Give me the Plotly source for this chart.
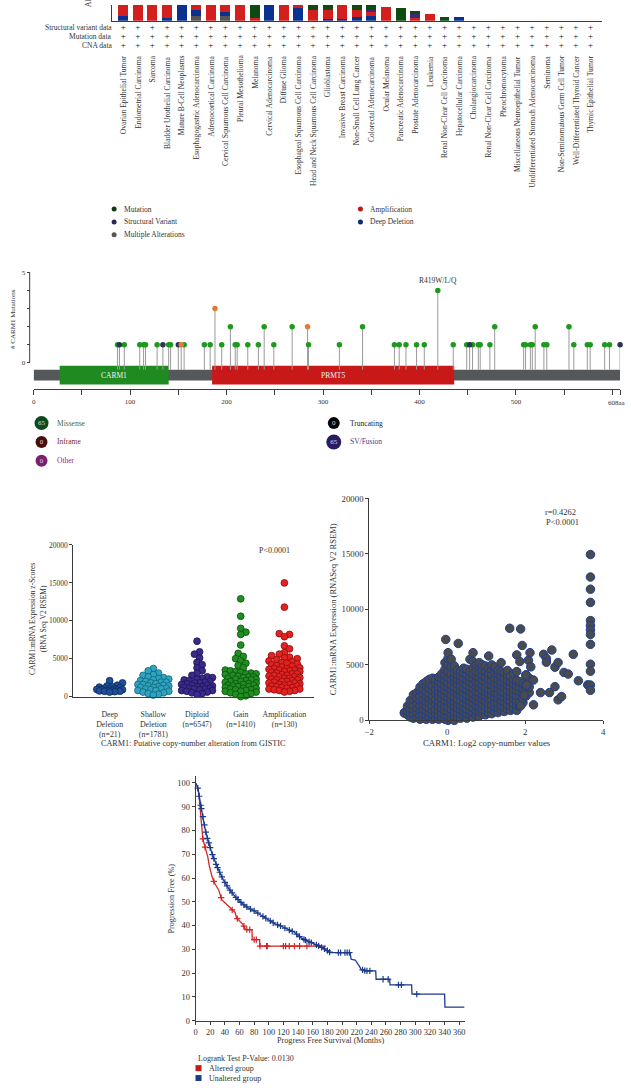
import math
import numpy as np
import plotly.graph_objects as go

W, H = 631, 1088
SERIF = "Liberation Serif"

# ---------------- Panel A: alteration frequency by cancer type ----------------
cancer_types = [
    "Ovarian Epithelial Tumor", "Endometrial Carcinoma", "Sarcoma", "Bladder Urothelial Carcinoma",
    "Mature B-Cell Neoplasms", "Esophagogastric Adenocarcinoma", "Adrenocortical Carcinoma",
    "Cervical Squamous Cell Carcinoma", "Pleural Mesothelioma", "Melanoma", "Cervical Adenocarcinoma",
    "Diffuse Glioma", "Esophageal Squamous Cell Carcinoma", "Head and Neck Squamous Cell Carcinoma",
    "Glioblastoma", "Invasive Breast Carcinoma", "Non-Small Cell Lung Cancer", "Colorectal Adenocarcinoma",
    "Ocular Melanoma", "Pancreatic Adenocarcinoma", "Prostate Adenocarcinoma", "Leukemia",
    "Renal Non-Clear Cell Carcinoma", "Hepatocellular Carcinoma", "Cholangiocarcinoma",
    "Renal Non-Clear Cell Carcinoma", "Pheochromocytoma", "Miscellaneous Neuroepithelial Tumor",
    "Undifferentiated Stomach Adenocarcinoma", "Seminoma", "Non-Seminomatous Germ Cell Tumor",
    "Well-Differentiated Thyroid Cancer", "Thymic Epithelial Tumor",
]
freq_multiple = [0, 0, 0, 0, 0, 0.58, 0, 0.58, 0, 0, 0, 0, 0, 0, 0, 0, 0, 0, 0, 0, 0, 0, 0, 0,
                 0, 0, 0, 0, 0, 0, 0, 0, 0]
freq_deep_del = [0.62, 0, 0, 0.33, 4.2, 0.79, 0, 0.5, 0, 0, 3.6, 0, 1.58, 0, 0.2, 0.29, 0.54, 0.62,
                 0, 0, 0, 0, 0, 0.46, 0, 0, 0, 0, 0, 0, 0, 0, 0]
freq_amp = [6.5, 6.0, 5.6, 5.2, 0, 3.8, 4.6, 4.4, 4.0, 0.33, 0, 3.2, 1.9, 1.38, 1.2, 2.4, 0.88, 0.5,
            1.79, 0, 0.33, 0.83, 0, 0, 0, 0, 0, 0, 0, 0, 0, 0, 0]
freq_sv = [0, 0, 0, 0, 0, 0, 0, 0, 0, 0, 0, 0, 0, 0, 0.15, 0, 0, 0.22, 0, 0, 0.54, 0, 0, 0,
           0, 0, 0, 0, 0, 0, 0, 0, 0]
freq_mut = [0, 0, 0, 0, 0, 0, 0, 0, 0, 2.5, 0, 0, 0, 1.0, 0.8, 0, 0.8, 0.9, 0, 1.58, 0.37, 0, 0.46, 0,
            0, 0, 0, 0, 0, 0, 0, 0, 0]
data_rows = ["Structural variant data", "Mutation data", "CNA data"]
legend_a = ["Mutation", "Structural Variant", "Multiple Alterations", "Amplification", "Deep Deletion"]

# ---------------- Panel B: lollipop ----------------
mut_pos = [87, 89, 94, 110, 114, 116, 128, 134, 140, 142, 150, 153, 156, 177, 183, 188, 195, 204, 209,
           211, 222, 233, 239, 249, 268, 284, 285, 317, 341, 374, 379, 386, 397, 405, 419, 435, 449,
           452, 455, 461, 463, 473, 478, 508, 510, 515, 517, 520, 529, 532, 555, 560, 574, 577, 592,
           597, 608]
mut_count = [1, 1, 1, 1, 1, 1, 1, 1, 1, 1, 1, 1, 1, 1, 1, 3, 1, 2, 1,
             1, 1, 1, 2, 1, 2, 2, 1, 1, 2, 1, 1, 1, 1, 1, 4, 1, 1,
             1, 1, 1, 1, 1, 2, 1, 1, 1, 1, 2, 1, 1, 2, 1, 1, 1, 1,
             1, 1]
mut_class = ["M", "T", "M", "M", "M", "M", "M", "T", "M", "M", "T", "O", "M", "M", "M", "O", "M", "M", "M",
             "M", "M", "M", "M", "M", "M", "O", "M", "M", "M", "M", "M", "M", "M", "M", "M", "M", "M",
             "T", "M", "M", "M", "M", "M", "M", "M", "M", "M", "M", "M", "M", "M", "M", "M", "M", "M",
             "M", "T"]
protein_length = 608
domain_names = ["CARM1", "PRMT5"]
domain_start = [27, 185]
domain_end = [140, 436]
hotspot_label = "R419W/L/Q"
hotspot_pos = 419
legend_b_labels = ["Missense", "Inframe", "Other", "Truncating", "SV/Fusion"]
legend_b_counts = ["65", "0", "0", "0", "65"]

# ---------------- Panel C: expression by copy-number group ----------------
cna_groups = ["Deep<br>Deletion<br>(n=21)", "Shallow<br>Deletion<br>(n=1781)", "Diploid<br>(n=6547)",
              "Gain<br>(n=1410)", "Amplification<br>(n=130)"]
expr_deep = [2100, 1800, 1500, 1400, 1300, 1250, 1200, 1100, 1000, 1000, 950, 900, 900, 850, 800, 800,
             750, 700, 700, 650, 600]
expr_shallow = [3700, 3400, 3100, 2900, 2800, 2600, 2500, 2400, 2300, 2200, 2100, 2000, 1900, 1900, 1800,
                1700, 1600, 1600, 1500, 1400, 1400, 1300, 1200, 1200, 1100, 1000, 1000, 900, 800, 800,
                700, 600, 500, 400, 300, 200]
expr_diploid = [7300, 5900, 5600, 5100, 4500, 4200, 3800, 3400, 3100, 2800, 2600, 2500, 2400, 2300, 2200,
                2100, 2000, 1900, 1800, 1800, 1700, 1600, 1500, 1500, 1400, 1300, 1300, 1200, 1100, 1100,
                1000, 1000, 900, 800, 800, 700, 600, 500, 400, 300]
expr_gain = [12900, 10600, 9000, 8500, 8200, 6800, 5700, 5300, 5000, 4700, 4400, 4100, 3800, 3500, 3400,
             3300, 3200, 3100, 3000, 3000, 2900, 2800, 2700, 2600, 2600, 2500, 2400, 2300, 2300, 2200,
             2100, 2000, 2000, 1900, 1800, 1700, 1700, 1600, 1500, 1500, 1400, 1300, 1300, 1200, 1100,
             1100, 1000, 900, 900, 800, 700, 700, 600, 500, 400, 300, 100, 0]
expr_amp = [15000, 11800, 8300, 8200, 7900, 6700, 6300, 5800, 5600, 5400, 5200, 5100, 5000, 4900, 4700,
            4600, 4500, 4400, 4300, 4200, 4100, 4000, 3900, 3800, 3700, 3700, 3600, 3500, 3500, 3400,
            3300, 3300, 3200, 3100, 3000, 3000, 2900, 2800, 2800, 2700, 2600, 2600, 2500, 2400, 2400,
            2300, 2200, 2200, 2100, 2000, 2000, 1900, 1800, 1800, 1700, 1600, 1600, 1500, 1400, 1400,
            1300, 1200, 1200, 1100, 1000, 1000, 900, 800, 800, 700, 600]

# ---------------- Panel D: log2 copy number vs expression ----------------
cnv_col_x = [-1.10, -1.02, -0.95, -0.87, -0.78, -0.70, -0.62, -0.54, -0.46, -0.38, -0.30, -0.22, -0.14,
             -0.06, 0.02, 0.10, 0.18, 0.26, 0.34, 0.42, 0.50, 0.58, 0.66, 0.74, 0.82, 0.90, 0.98, 1.06,
             1.14, 1.22, 1.30, 1.38, 1.46, 1.54, 1.62, 1.70, 1.78, 1.86, 1.94, 2.02, 2.10]
cnv_col_y = [
    [700, 650],
    [500, 900, 1300],
    [300, 700, 1100, 1500, 1800],
    [200, 600, 1000, 1400, 1900, 2300],
    [300, 700, 1100, 1600, 2000, 2500],
    [100, 500, 900, 1300, 1800, 2200, 2700, 3000],
    [200, 600, 1000, 1500, 1900, 2400, 2800, 3300],
    [100, 500, 900, 1300, 1700, 2200, 2600, 3100, 3500],
    [300, 700, 1100, 1600, 2000, 2400, 2900, 3300, 3700],
    [100, 500, 900, 1300, 1800, 2200, 2700, 3100, 3800],
    [200, 600, 1000, 1500, 1900, 2400, 2800, 3300, 3700],
    [100, 500, 900, 1300, 1700, 2200, 2600, 3000, 3500, 3900],
    [300, 700, 1100, 1500, 2000, 2400, 2900, 3300, 3800, 4200],
    [100, 500, 900, 1300, 1800, 2200, 2700, 3100, 3600, 4100, 4600, 5200],
    [0, 400, 800, 1200, 1700, 2100, 2500, 3000, 3400, 3900, 4400, 5000, 5600, 6100],
    [200, 600, 1000, 1500, 1900, 2300, 2800, 3200, 3700, 4200, 4800, 5500],
    [0, 400, 800, 1300, 1700, 2100, 2600, 3000, 3500, 3900, 4300, 4900],
    [300, 700, 1100, 1500, 1900, 2400, 2800, 3300, 3700, 4100, 4500],
    [200, 600, 1000, 1400, 1800, 2300, 2700, 3100, 3600, 4000, 4400],
    [400, 800, 1200, 1600, 2100, 2500, 2900, 3400, 3800, 4300, 4700],
    [200, 600, 1000, 1500, 1900, 2300, 2800, 3200, 3700, 4100, 4600],
    [500, 900, 1300, 1700, 2200, 2600, 3000, 3500, 3900, 4400, 5500],
    [300, 700, 1100, 1600, 2000, 2400, 2900, 3300, 3800, 4200, 4700, 5300, 6100],
    [500, 900, 1300, 1800, 2200, 2600, 3100, 3500, 4000, 4400, 5000],
    [400, 800, 1200, 1700, 2100, 2500, 3000, 3400, 3900, 4300, 4900, 5200],
    [600, 1000, 1400, 1900, 2300, 2700, 3200, 3600, 4100, 4500, 5000],
    [500, 900, 1300, 1700, 2200, 2600, 3000, 3500, 3900, 4400, 4900],
    [700, 1100, 1500, 2000, 2400, 2800, 3300, 3700, 4200, 4700, 5800],
    [600, 1000, 1400, 1900, 2300, 2700, 3200, 3600, 4100, 4600, 5000],
    [800, 1200, 1600, 2100, 2500, 2900, 3400, 3800, 4300, 4800],
    [700, 1100, 1600, 2000, 2400, 2900, 3300, 3700, 4200, 4500],
    [900, 1300, 1800, 2200, 2600, 3100, 3500, 3900, 4400, 5200],
    [800, 1200, 1700, 2100, 2500, 3000, 3400, 3800, 4300],
    [1000, 1400, 1900, 2300, 2700, 3200, 3600, 4100, 4500],
    [900, 1300, 1800, 2200, 2600, 3100, 3500, 4000],
    [1100, 1500, 2000, 2400, 2800, 3300, 3700, 4200],
    [900, 1400, 1800, 2200, 2700, 3100, 3600, 4400, 5900],
    [1300, 1700, 2200, 2600, 3000, 3500, 5300],
    [1600, 2000, 2400, 2900, 3300],
    [2200, 2800, 3200, 4100],
    [2500, 3000, 3800],
]
cnv_extra_x = [-0.04, 0.28, 1.60, 1.88, 1.92, 1.88, 2.08, 2.12, 2.14, 2.01, 2.03, 1.97, 2.21, 2.21, 2.39,
               2.47, 2.54, 2.54, 2.62, 2.68, 2.76, 2.76, 2.84, 2.84, 2.93, 2.99, 3.10, 3.23, 3.36, 3.60,
               3.67, 3.67, 3.67, 3.67, 3.67, 3.67, 3.67, 3.67, 3.67, 3.67, 3.67, 3.67, 3.67]
cnv_extra_y = [7290, 6930, 8300, 8240, 6750, 1310, 5420, 6100, 4820, 4080, 3180, 2290, 1400, 3630, 2500,
               5950, 5570, 5240, 2500, 6340, 4790, 3040, 5210, 1850, 2140, 4320, 4170, 5950, 3570, 3200,
               14940, 12920, 11820, 10630, 8990, 8540, 8150, 7740, 6850, 5060, 4430, 3180, 2710]

# ---------------- Panel E: Kaplan-Meier ----------------
unalt_t = [0, 2.7, 4.5, 6.75, 9, 11.2, 13.5, 15.7, 19, 22.5, 27, 31.5, 38, 45, 54, 63, 72, 81, 90, 99,
           108, 117, 126, 135, 144, 153, 162, 171, 178, 184, 211, 211.5, 212.4, 218, 220, 224, 226, 232,
           246, 246.5, 265, 265.5, 295, 295.5, 340, 340.5, 367]
unalt_s = [100, 98.3, 95.4, 91, 87.7, 83.6, 80, 77, 73.8, 70.3, 66.4, 63.4, 59.2, 55.7, 52.2, 49.4, 47.4,
           46, 44.2, 42.5, 40.8, 39.7, 38.3, 37.2, 34.8, 33.4, 32.3, 31, 29.9, 28.6, 28.6, 27.9, 25.8,
           25.5, 24.7, 22.7, 21.6, 20.9, 20.9, 17.4, 17.4, 15.0, 15.0, 11.1, 11.1, 5.7, 5.7]
unalt_censor = [3, 5, 7, 8, 10, 12, 14, 16, 18, 20, 23, 25, 28, 30, 33, 36, 40, 43, 47, 50, 55, 58, 62, 66,
                70, 75, 80, 85, 92, 96, 102, 106, 112, 116, 122, 128, 132, 138, 142, 148, 150, 155, 158,
                165, 168, 172, 176, 180, 183, 195, 198, 204, 207, 210, 228, 231, 234, 238, 256, 263, 277,
                281, 302]
alt_t = [0, 3.6, 4.5, 5.9, 7.7, 9.9, 13.5, 16.7, 19, 22.5, 26, 31.5, 36, 40.5, 47, 54, 56, 60.7, 65, 68.4,
         77, 77.4, 87.5, 87.8, 178]
alt_s = [100, 97.6, 95.4, 89.8, 82.9, 76.6, 72.4, 68.9, 64.8, 60.6, 57.8, 55, 50.8, 49.4, 47.4, 45.5, 43.2,
         41.8, 40.4, 38.3, 38.3, 34.1, 34.1, 31.3, 31.3]
alt_censor = [10, 13, 25, 35, 50, 57, 66, 70, 74, 80, 83, 88, 97, 98, 120, 123, 128, 135, 142, 152]

# ============================================================================
def xd(a, b):
    return [a / W, b / W]


def yd(top, bottom):
    return [1 - bottom / H, 1 - top / H]


def px(x):
    return x / W


def py(y):
    return 1 - y / H


TXT = "#333333"
LINE = "#3c3c3c"
fig = go.Figure()
annotations = []
shapes = []


def ann(text, x, y, size=8, color=TXT, xanchor="center", yanchor="middle", angle=0, xref="paper",
        yref="paper", **kw):
    annotations.append(dict(text=text, x=x, y=y, xref=xref, yref=yref, showarrow=False,
                            xanchor=xanchor, yanchor=yanchor, textangle=angle,
                            font=dict(family=SERIF, size=size, color=color), **kw))


# ---------------- Panel A ----------------
n_types = len(cancer_types)
xi = list(range(n_types))
for arr, col in [(freq_multiple, "#555555"), (freq_deep_del, "#0b3190"), (freq_amp, "#d41f1f"),
                 (freq_sv, "#3b2a7c"), (freq_mut, "#0e4a12")]:
    fig.add_trace(go.Bar(x=xi, y=arr, marker=dict(color=col, line=dict(width=0)), width=0.68,
                         xaxis="x", yaxis="y", hoverinfo="skip"))

row_px = [22.7, 31.7, 40.7]
plus_x, plus_y = [], []
for r, rp in enumerate(data_rows):
    for i in xi:
        plus_x.append(i)
        plus_y.append(row_px[r])
    ann(rp, px(110.5), py(row_px[r]), size=7.5, xanchor="right")
fig.add_trace(go.Scatter(x=plus_x, y=plus_y, mode="text", text=["+"] * len(plus_x),
                         textfont=dict(family=SERIF, size=9, color="#111"), xaxis="x", yaxis="y2",
                         cliponaxis=False, hoverinfo="skip"))
for i, name in enumerate(cancer_types):
    ann(name, i, py(49), size=7.6, xref="x", yanchor="top", angle=-90)
ann("Alteration Frequency", px(85), py(4), size=7.5, angle=-90, yanchor="bottom")

# legend A (overlay pixel axis x7/y7)
leg_a_col = ["#103c14", "#2a2a55", "#555555", "#c01616", "#0c2c6c"]
leg_a_x = [110.5, 110.5, 110.5, 360, 360]
leg_a_y = [206, 219, 232, 206, 219]
fig.add_trace(go.Scatter(x=leg_a_x, y=leg_a_y, mode="markers",
                         marker=dict(size=5, color=leg_a_col), xaxis="x7", yaxis="y7",
                         hoverinfo="skip", cliponaxis=False))
for lab, xx, yy in zip(legend_a, leg_a_x, leg_a_y):
    ann(lab, px(xx + 8), py(yy), size=7.5, xanchor="left")

# ---------------- Panel B ----------------
stem_base = -0.385
sx, sy = [], []
for p, c in zip(mut_pos, mut_count):
    sx += [p, p, None]
    sy += [stem_base, c, None]
fig.add_trace(go.Scatter(x=sx, y=sy, mode="lines", line=dict(color="#9a9a9a", width=1),
                         xaxis="x3", yaxis="y3", hoverinfo="skip", cliponaxis=False))
cls_color = {"M": "#1d9a1d", "T": "#2c3350", "O": "#e07a3a"}
for k, col in cls_color.items():
    xs = [p for p, c in zip(mut_pos, mut_class) if c == k]
    ys = [n for n, c in zip(mut_count, mut_class) if c == k]
    fig.add_trace(go.Scatter(x=xs, y=ys, mode="markers",
                             marker=dict(size=5.5, color=col, line=dict(width=0)),
                             xaxis="x3", yaxis="y3", hoverinfo="skip", cliponaxis=False))
shapes.append(dict(type="rect", xref="x3", yref="y3", x0=0, x1=protein_length, y0=-0.99, y1=-0.385,
                   fillcolor="#55585b", line=dict(width=0), layer="below"))
for nm, s, e, col in zip(domain_names, domain_start, domain_end, ["#1f8a1f", "#c81818"]):
    shapes.append(dict(type="rect", xref="x3", yref="y3", x0=s, x1=e, y0=-1.21, y1=-0.165,
                       fillcolor=col, line=dict(width=0), layer="below"))
    ann(nm, (s + e) / 2, -0.69, size=7.5, color="#f2f2f2", xref="x3", yref="y3")
shapes.append(dict(type="line", xref="paper", yref="y3", x0=px(25), x1=px(25), y0=0, y1=5,
                   line=dict(color=LINE, width=1)))
hi = mut_pos.index(hotspot_pos)
ann(hotspot_label, hotspot_pos, mut_count[hi], size=7.5, xref="x3", yref="y3", yshift=10)
ann("# CARM1 Mutations", px(8), py(317), size=7, angle=-90)
ann(str(protein_length) + "aa", px(630.5), py(401.5), size=7, xanchor="right")

leg_b_x = [37, 37, 37, 333, 333]
leg_b_y = [422, 441, 460, 422, 441]
leg_b_col = ["#0f4a1c", "#4a0c0c", "#7a1f72", "#050505", "#2c1b63"]
leg_b_txt = ["#3f6a48", "#7a2a2a", "#8a2a8a", "#222222", "#4a3a8c"]
leg_b_size = [14, 12, 12, 12, 15]
fig.add_trace(go.Scatter(x=leg_b_x, y=leg_b_y, mode="markers",
                         marker=dict(size=leg_b_size, color=leg_b_col, opacity=1, line=dict(width=0)),
                         xaxis="x7", yaxis="y7", hoverinfo="skip", cliponaxis=False))
fig.add_trace(go.Scatter(x=leg_b_x, y=leg_b_y, mode="text", text=legend_b_counts,
                         textposition="middle center",
                         textfont=dict(family=SERIF, size=7, color="#d8d8d8"),
                         xaxis="x7", yaxis="y7", hoverinfo="skip", cliponaxis=False))
for lab, xx, yy, c in zip(legend_b_labels, leg_b_x, leg_b_y, leg_b_txt):
    ann(lab, px(xx + 14), py(yy), size=7.5, color=c, xanchor="left")

# ---------------- Panel C ----------------
C_PPX = 244 / 5.514
C_PPY = 153 / 20000.0


def swarm_offsets(values, ppx, ppy, diam, max_half):
    order = sorted(range(len(values)), key=lambda i: values[i])
    step = diam * 0.5
    cands = [0.0]
    k = 1
    while k * step <= max_half:
        cands += [k * step, -k * step]
        k += 1
    placed = []
    offs = [0.0] * len(values)
    for i in order:
        yp = values[i] * ppy
        chosen, best, bestc = None, -1.0, 0.0
        for c in cands:
            near = [math.hypot(c - a, yp - b) for a, b in placed if abs(yp - b) < diam]
            md = min(near) if near else 1e9
            if md >= diam:
                chosen = c
                break
            if md > best:
                best, bestc = md, c
        if chosen is None:
            chosen = bestc
        placed.append((chosen, yp))
        offs[i] = chosen / ppx
    return offs


groups = [expr_deep, expr_shallow, expr_diploid, expr_gain, expr_amp]
g_fill = ["#1f4f96", "#2fa3c0", "#3a2b88", "#1f8f22", "#e32222"]
g_edge = ["#0b2a5e", "#126578", "#1b1258", "#0c4d0e", "#8c0c0c"]
g_half = [14, 17, 17, 16, 18]
for gi, vals in enumerate(groups):
    offs = swarm_offsets(vals, C_PPX, C_PPY, 5.2, g_half[gi])
    fig.add_trace(go.Scatter(x=[gi + o for o in offs], y=vals, mode="markers",
                             marker=dict(size=6.8, color=g_fill[gi], line=dict(color=g_edge[gi], width=0.8)),
                             xaxis="x4", yaxis="y4", hoverinfo="skip", cliponaxis=False))
ann("P<0.0001", px(273), py(551), size=8)
ann("CARM1:mRNA Expression z-Scores", px(28), py(620), size=7.5, angle=-90)
ann("(RNA Seq V2 RSEM)", px(38.5), py(620), size=7.5, angle=-90)
ann("CARM1: Putative copy-number alteration from GISTIC", px(191), py(745), size=8.2)

# ---------------- Panel D ----------------
dx, dy = [], []
for cx, ys in zip(cnv_col_x, cnv_col_y):
    for v in ys:
        dx.append(cx)
        dy.append(v)
dx += cnv_extra_x
dy += cnv_extra_y
fig.add_trace(go.Scatter(x=dx, y=dy, mode="markers",
                         marker=dict(size=8.5, color="#4b4b4d", line=dict(color="#1d3f8f", width=1)),
                         xaxis="x5", yaxis="y5", hoverinfo="skip", cliponaxis=False))
ann("r=0.4262", px(563), py(512), size=8.5)
ann("P<0.0001", px(565), py(522), size=8.5)
ann("CARM1:mRNA Expression (RNASeq V2 RSEM)", px(333), py(610), size=8.5, angle=-90)
ann("CARM1: Log2 copy-number values", px(488), py(745), size=8.8)

# ---------------- Panel E ----------------
for t, s, cens, col in [(alt_t, alt_s, alt_censor, "#d42424"), (unalt_t, unalt_s, unalt_censor, "#1b3a8c")]:
    fig.add_trace(go.Scatter(x=t, y=s, mode="lines", line=dict(color=col, width=1.3),
                             xaxis="x6", yaxis="y6", hoverinfo="skip"))
    cy = list(np.interp(cens, t, s))
    fig.add_trace(go.Scatter(x=cens, y=cy, mode="markers",
                             marker=dict(symbol="cross-thin", size=4.5, line=dict(color=col, width=1.2)),
                             xaxis="x6", yaxis="y6", hoverinfo="skip", cliponaxis=False))
ann("Progression Free (%)", px(169), py(902), size=8.2, angle=-90)
ann("Progress Free Survival (Months)", px(330), py(1045), size=8.2)
ann("Logrank Test P-Value: 0.0130", px(193), py(1063), size=8, xanchor="left")
fig.add_trace(go.Scatter(x=[196, 196], y=[1073, 1083], mode="markers",
                         marker=dict(symbol="square", size=6, color=["#c41a1a", "#1b3a8c"]),
                         xaxis="x7", yaxis="y7", hoverinfo="skip", cliponaxis=False))
ann("Altered group", px(205), py(1073), size=8, xanchor="left")
ann("Unaltered group", px(205), py(1083), size=8, xanchor="left")

# ---------------- Layout ----------------
def axis(**kw):
    base = dict(showgrid=False, zeroline=False, linecolor=LINE, linewidth=1, tickcolor=LINE,
                ticks="outside", ticklen=3, tickwidth=1,
                tickfont=dict(family=SERIF, size=7.5, color=TXT))
    base.update(kw)
    return base


lay = dict(
    width=W, height=H, margin=dict(l=0, r=0, t=0, b=0), autosize=False,
    paper_bgcolor="white", plot_bgcolor="rgba(0,0,0,0)", showlegend=False, barmode="stack",
    bargap=0, font=dict(family=SERIF, color=TXT), hovermode=False,
    xaxis=axis(domain=xd(108, 605), range=[-0.791, 32.81], showline=True, ticks="",
               showticklabels=False, anchor="y"),
    yaxis=axis(domain=yd(0, 16), range=[0, 2], showline=True, ticks="", showticklabels=False,
               anchor="x"),
    yaxis2=dict(domain=yd(17, 46), range=[46, 17], visible=False, anchor="x"),
    xaxis3=axis(domain=xd(29, 623), range=[0, protein_length], showline=True, anchor="free",
                position=py(388), ticklen=5,
                tickvals=list(range(0, 601, 50)) + [protein_length],
                ticktext=[str(v) if (v % 100 == 0 and v < 600) else "" for v in range(0, 601, 50)] + [""],
                tickfont=dict(family=SERIF, size=7, color=TXT)),
    yaxis3=axis(domain=yd(270, 384.7), range=[-1.3, 5], showline=False, anchor="free",
                position=px(25), tickvals=[0, 1, 2, 3, 4, 5], ticktext=["0", "", "", "", "", "5"],
                tickfont=dict(family=SERIF, size=7, color=TXT)),
    xaxis4=axis(domain=xd(69, 313), range=[-0.836, 4.678], showline=True, ticks="", anchor="y4",
                tickvals=list(range(len(cna_groups))), ticktext=cna_groups, ticklabelstandoff=10,
                tickfont=dict(family=SERIF, size=7.8, color=TXT)),
    yaxis4=axis(domain=yd(545, 698), range=[0, 20000], showline=True, anchor="x4", tickformat="d",
                tickvals=[0, 5000, 10000, 15000, 20000]),
    xaxis5=axis(domain=xd(369, 606), range=[-2, 4], showline=True, anchor="y5",
                tickvals=[-2, 0, 2, 4], tickfont=dict(family=SERIF, size=8.8, color=TXT)),
    yaxis5=axis(domain=yd(498, 722), range=[0, 20000], showline=True, anchor="x5", tickformat="d",
                tickvals=[0, 5000, 10000, 15000, 20000], tickfont=dict(family=SERIF, size=8.8, color=TXT)),
    xaxis6=axis(domain=xd(193, 466), range=[0, 368], showline=True, anchor="y6",
                tickvals=list(range(0, 361, 20)), tickfont=dict(family=SERIF, size=8.4, color=TXT)),
    yaxis6=axis(domain=yd(778, 1025), range=[0, 103], showline=True, anchor="x6",
                tickvals=list(range(0, 101, 10)), tickfont=dict(family=SERIF, size=8.4, color=TXT)),
    xaxis7=dict(domain=[0, 1], range=[0, W], visible=False, anchor="y7", fixedrange=True),
    yaxis7=dict(domain=[0, 1], range=[H, 0], visible=False, anchor="x7", fixedrange=True),
    annotations=annotations, shapes=shapes,
)
fig.update_layout(**lay)
fig.write_html("out.html", config={"displayModeBar": False, "staticPlot": True},
               post_script="document.body.style.margin='0';document.body.style.padding='0';"
                           "document.documentElement.style.overflow='hidden';")
